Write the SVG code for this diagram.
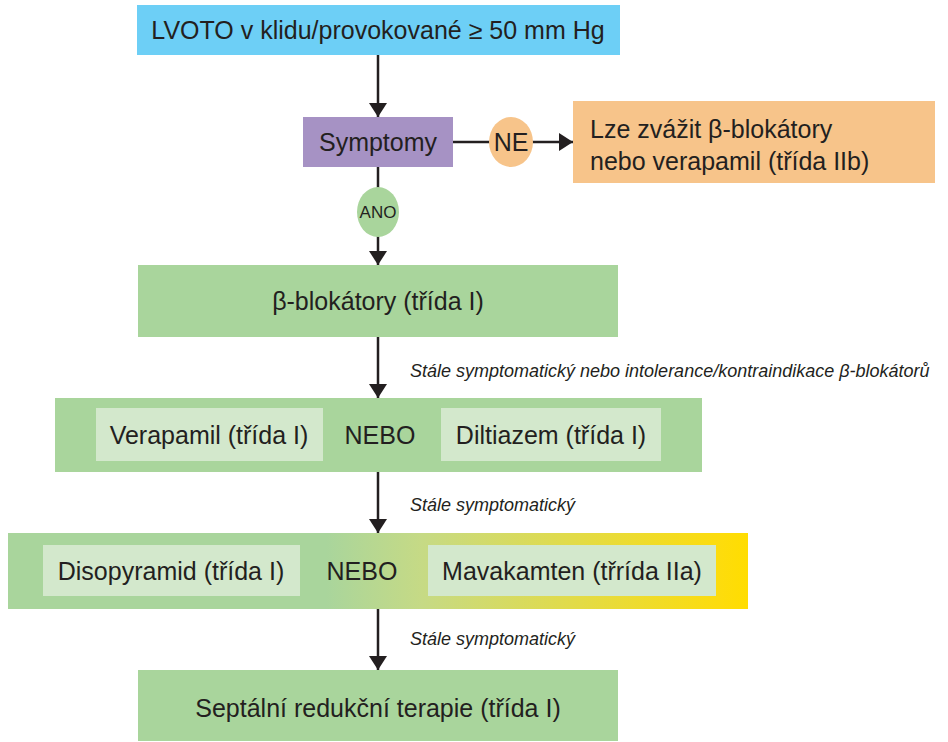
<svg xmlns="http://www.w3.org/2000/svg" width="948" height="742" viewBox="0 0 948 742">
<style>
.t{font-family:"Liberation Sans","Noto Sans",Arial,sans-serif;fill:#231f20;font-size:25px}
.c{text-anchor:middle}
.s{font-size:17px}
.i{font-family:"Liberation Sans","Noto Sans",Arial,sans-serif;fill:#231f20;font-size:18px;font-style:italic}
.ln{stroke:#231f20;stroke-width:2.5;fill:none}
.g{fill:#a9d59c}
.lg{fill:#d3e8cc}
</style>
<defs>
<marker id="ah" viewBox="0 0 14 18" refX="14" refY="9" markerWidth="14" markerHeight="18" markerUnits="userSpaceOnUse" orient="auto">
<path d="M0,0 L14,9 L0,18 Z" fill="#231f20"/>
</marker>
<linearGradient id="gy" gradientUnits="userSpaceOnUse" x1="8" y1="0" x2="748" y2="0">
<stop offset="0" stop-color="#a9d59c"/>
<stop offset="0.43" stop-color="#a9d59c"/>
<stop offset="0.56" stop-color="#c6da85"/>
<stop offset="0.965" stop-color="#fddc0c"/>
<stop offset="1" stop-color="#ffdd00"/>
</linearGradient>
</defs>
<g id="connectors">
<line class="ln" x1="378" y1="55" x2="378" y2="117" marker-end="url(#ah)"/>
<line class="ln" x1="453" y1="142" x2="573" y2="142" marker-end="url(#ah)"/>
<line class="ln" x1="378" y1="167" x2="378" y2="265" marker-end="url(#ah)"/>
<line class="ln" x1="378" y1="337" x2="378" y2="398" marker-end="url(#ah)"/>
<line class="ln" x1="378" y1="472" x2="378" y2="533" marker-end="url(#ah)"/>
<line class="ln" x1="378" y1="609" x2="378" y2="670" marker-end="url(#ah)"/>
<text class="i" x="410" y="377">Stále symptomatický nebo intolerance/kontraindikace β-blokátorů</text>
<text class="i" x="410" y="511">Stále symptomatický</text>
<text class="i" x="410" y="645">Stále symptomatický</text>
</g>
<g id="lvoto">
<rect x="137" y="5" width="483" height="50" fill="#6dcff6"/>
<text class="t c" x="378" y="39">LVOTO v klidu/provokované ≥ 50 mm Hg</text>
</g>
<g id="symptomy">
<rect x="303" y="117" width="150" height="50" fill="#a692c4"/>
<text class="t c" x="378" y="151">Symptomy</text>
</g>
<g id="ne">
<ellipse cx="511" cy="142" rx="22" ry="25" fill="#f7c48a"/>
<text class="t c" x="511" y="151">NE</text>
</g>
<g id="alt">
<rect x="573" y="101" width="362" height="82" fill="#f7c48a"/>
<text class="t" x="590" y="138">Lze zvážit β-blokátory</text>
<text class="t" x="590" y="170">nebo verapamil (třída IIb)</text>
</g>
<g id="ano">
<ellipse cx="378" cy="212" rx="21" ry="25" fill="#a9d59c"/>
<text class="t c s" x="378" y="218">ANO</text>
</g>
<g id="beta">
<rect class="g" x="138" y="265" width="480" height="72"/>
<text class="t c" x="378" y="310">β-blokátory (třída I)</text>
</g>
<g id="vera">
<rect class="g" x="55" y="398" width="647" height="74"/>
<rect class="lg" x="96" y="408" width="227" height="53"/>
<rect class="lg" x="441" y="408" width="220" height="53"/>
<text class="t c" x="209" y="444">Verapamil (třída I)</text>
<text class="t c" x="380" y="444">NEBO</text>
<text class="t c" x="551" y="444">Diltiazem (třída I)</text>
</g>
<g id="diso">
<rect x="8" y="533" width="740" height="76" fill="url(#gy)"/>
<rect class="lg" x="43" y="545" width="257" height="51"/>
<rect class="lg" x="428" y="545" width="288" height="51"/>
<text class="t c" x="171" y="580">Disopyramid (třída I)</text>
<text class="t c" x="362" y="580">NEBO</text>
<text class="t c" x="572" y="580">Mavakamten (třrída IIa)</text>
</g>
<g id="septal">
<rect class="g" x="138" y="670" width="480" height="71"/>
<text class="t c" x="378" y="717">Septální redukční terapie (třída I)</text>
</g>
</svg>
